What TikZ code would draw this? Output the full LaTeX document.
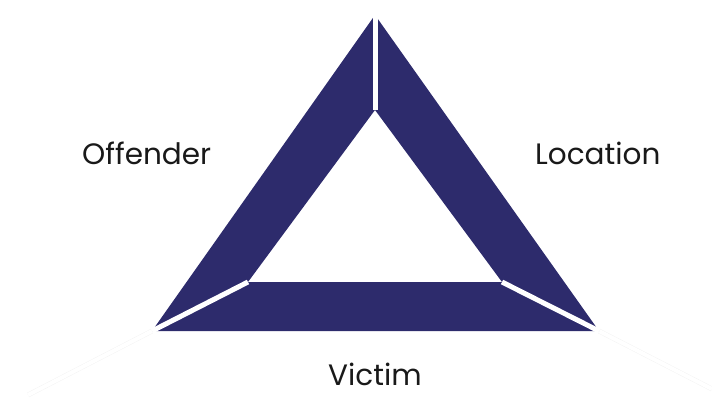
\documentclass[tikz,border=0pt]{standalone}
\usepackage{fontspec}
\setmainfont{Poppins}
\definecolor{navy}{RGB}{45,43,108}
\begin{document}
\begin{tikzpicture}[x=1pt,y=-1pt,
  lbl/.style={font=\fontsize{29.5}{32}\selectfont, text=black!90, inner sep=0pt},
  gap/.style={draw=white, line width=5pt},
  ghost/.style={draw=black!5, double=white, double distance=4pt, line width=0.4pt}]
\useasboundingbox (0,0) rectangle (712,398);
\coordinate (OT) at (375,15);
\coordinate (OL) at (152,331);
\coordinate (OR) at (599,331);
\coordinate (IT) at (375,110);
\coordinate (IL) at (248,282);
\coordinate (IR) at (502,282);
\coordinate (ET) at (375,0);
\coordinate (EL) at (28,395);
\coordinate (ER) at (712,389);
% faint extensions
\draw[ghost] (OT) -- (ET);
\draw[ghost] (OL) -- (EL);
\draw[ghost] (OR) -- (ER);
% triangle band
\fill[navy, even odd rule] (OT) -- (OL) -- (OR) -- cycle (IT) -- (IL) -- (IR) -- cycle;
\draw[gap] (OT) -- (IT);
\draw[gap] (OL) -- (IL);
\draw[gap] (OR) -- (IR);
\draw[gap, line width=3pt] ([yshift=-2pt]OT) -- (ET);
% labels
\node[lbl, anchor=base west] (off) at (82,165) {Offender};
\node[lbl, anchor=base west] (loc) at (535,165) {Location};
\node[lbl, anchor=base west] (vic) at (328,385) {Victim};
\end{tikzpicture}
\end{document}
